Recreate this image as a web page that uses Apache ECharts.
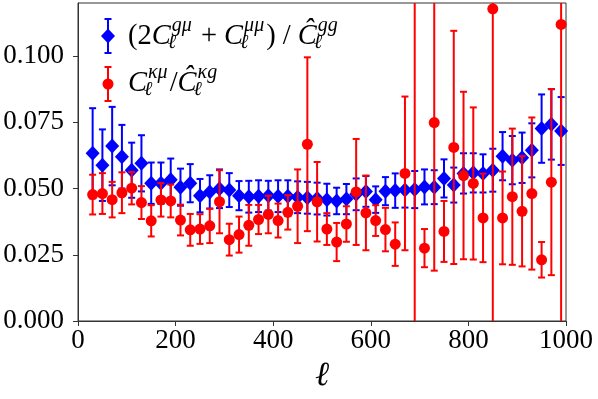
<!DOCTYPE html>
<html>
<head>
<meta charset="utf-8">
<script src="https://cdn.jsdelivr.net/npm/echarts@6/dist/echarts.min.js"></script>
<style>
	html, body { margin: 0; padding: 0; background: #fff; }
	#main { width: 598px; height: 399px; }
</style>
</head>
<body>
<div id="main"></div>
<script>
	// multipole bins
	var ells = [];
	for (var k = 0; k < 49; k++) ells.push(30 + 20 * k);

	// (2C^gmu + C^mumu) / C^gg  (blue diamonds)
	var blueVal = [0.0633, 0.0588, 0.0660, 0.0620, 0.0569, 0.0595, 0.0520, 0.0520, 0.0533, 0.0505,
		0.0520, 0.0473, 0.0487, 0.0499, 0.0494, 0.0473, 0.0469, 0.0471, 0.0473, 0.0471,
		0.0471, 0.0467, 0.0465, 0.0462, 0.0458, 0.0453, 0.0460, 0.0478, 0.0489, 0.0458,
		0.0490, 0.0492, 0.0494, 0.0496, 0.0506, 0.0505, 0.0538, 0.0513, 0.0557, 0.0559,
		0.0557, 0.0569, 0.0622, 0.0607, 0.0616, 0.0644, 0.0726, 0.0742, 0.0717];
	var blueErr = [0.0170, 0.0135, 0.0148, 0.0120, 0.0104, 0.0106, 0.0078, 0.0078, 0.0080, 0.0070,
		0.0072, 0.0063, 0.0063, 0.0073, 0.0064, 0.0055, 0.0060, 0.0060, 0.0056, 0.0060,
		0.0060, 0.0060, 0.0060, 0.0060, 0.0060, 0.0050, 0.0057, 0.0060, 0.0058, 0.0050,
		0.0053, 0.0065, 0.0066, 0.0070, 0.0066, 0.0064, 0.0072, 0.0066, 0.0076, 0.0074,
		0.0072, 0.0081, 0.0091, 0.0091, 0.0095, 0.0102, 0.0129, 0.0133, 0.0128];

	// C^kmu / C^kg  (red circles)
	var redVal = [0.0477, 0.0481, 0.0458, 0.0484, 0.0501, 0.0447, 0.0378, 0.0457, 0.0453, 0.0381,
		0.0344, 0.0347, 0.0359, 0.0450, 0.0307, 0.0326, 0.0361, 0.0383, 0.0402, 0.0379,
		0.0410, 0.0433, 0.0667, 0.0450, 0.0347, 0.0298, 0.0366, 0.0487, 0.0408, 0.0379,
		0.0345, 0.0290, 0.0557, 0.1600, 0.0275, 0.0749, 0.0338, 0.0655, 0.0549, 0.0519,
		0.0389, 0.1178, 0.0389, 0.0469, 0.0414, 0.0481, 0.0231, 0.0524, 0.1119];
	var redErr = [0.0075, 0.0077, 0.0067, 0.0077, 0.0061, 0.0062, 0.0059, 0.0063, 0.0062, 0.0058,
		0.0060, 0.0056, 0.0065, 0.0119, 0.0060, 0.0068, 0.0077, 0.0055, 0.0071, 0.0064,
		0.0065, 0.0139, 0.0328, 0.0150, 0.0060, 0.0072, 0.0067, 0.0200, 0.0141, 0.0058,
		0.0082, 0.0082, 0.0290, 0.2000, 0.0072, 0.0559, 0.0115, 0.0440, 0.0316, 0.0287,
		0.0167, 0.1300, 0.0175, 0.0257, 0.0208, 0.0287, 0.0067, 0.0351, 0.1300];

	var yTicks = [0, 0.025, 0.05, 0.075, 0.1];
	var xTicks = [0, 200, 400, 600, 800, 1000];

	var BLUE = '#0000ff', RED = '#ff0000';
	var SERIF = 'Liberation Serif';

	function pts(vals) {
		return ells.map(function (l, i) { return [l, vals[i]]; });
	}
	function bars(vals, errs) {
		return ells.map(function (l, i) { return [l, vals[i] - errs[i], vals[i] + errs[i]]; });
	}
	function errRender(color) {
		return function (params, api) {
			var lo = api.coord([api.value(0), api.value(1)]);
			var hi = api.coord([api.value(0), api.value(2)]);
			var c = 3.5;
			var st = { stroke: color, lineWidth: 2 };
			return {
				type: 'group',
				children: [
					{ type: 'line', shape: { x1: lo[0], y1: lo[1], x2: hi[0], y2: hi[1] }, style: st },
					{ type: 'line', shape: { x1: lo[0] - c, y1: lo[1], x2: lo[0] + c, y2: lo[1] }, style: st },
					{ type: 'line', shape: { x1: hi[0] - c, y1: hi[1], x2: hi[0] + c, y2: hi[1] }, style: st }
				]
			};
		};
	}

	// legend text with stacked super/subscripts
	var ctx = document.createElement('canvas').getContext('2d');
	function fontOf(size, it) {
		return (it ? 'italic ' : '') + size + 'px "' + SERIF + '", "DejaVu Serif", serif';
	}
	function textW(t, size, it) {
		ctx.font = fontOf(size, it);
		return ctx.measureText(t).width;
	}
	function txt(t, x, base, size, it) {
		return {
			type: 'text', x: x, y: base - 0.34 * size, z: 100,
			style: { text: t, font: fontOf(size, it), fill: '#000', align: 'left', verticalAlign: 'middle' }
		};
	}
	function label(x, base, pieces) {
		var out = [], S = 28.5, s = 20;
		pieces.forEach(function (p) {
			out.push(txt(p.t, x, base, S, p.it));
			x += textW(p.t, S, p.it);
			if (p.sup) {
				out.push(txt(p.sup, x + 1, base - 13, s, true));
				out.push(txt('ℓ', x - 3, base + 4, s, true));
				x += Math.max(textW(p.sup, s, true), textW('ℓ', s, true)) + 3;
			}
		});
		return out;
	}
	function legendMark(cx, cy, color, diamond) {
		var st = { stroke: color, lineWidth: 2 };
		var els = [
			{ type: 'line', shape: { x1: cx, y1: cy - 17, x2: cx, y2: cy + 17 }, style: st },
			{ type: 'line', shape: { x1: cx - 3.5, y1: cy - 17, x2: cx + 3.5, y2: cy - 17 }, style: st },
			{ type: 'line', shape: { x1: cx - 3.5, y1: cy + 17, x2: cx + 3.5, y2: cy + 17 }, style: st }
		];
		if (diamond) {
			els.push({ type: 'polygon', shape: { points: [[cx, cy - 7.5], [cx + 7, cy], [cx, cy + 7.5], [cx - 7, cy]] }, style: { fill: color } });
		} else {
			els.push({ type: 'circle', shape: { cx: cx, cy: cy, r: 5.5 }, style: { fill: color } });
		}
		return els;
	}

	var legendEls = []
		.concat(legendMark(108, 36, BLUE, true))
		.concat(legendMark(108, 84, RED, false))
		.concat(label(128, 46, [
			{ t: '(2' },
			{ t: 'C', it: true, sup: 'gμ' },
			{ t: ' + ' },
			{ t: 'C', it: true, sup: 'μμ' },
			{ t: ') / ' },
			{ t: 'Ĉ', it: true, sup: 'gg' }
		]))
		.concat(label(128, 93, [
			{ t: 'C', it: true, sup: 'κμ' },
			{ t: '/' },
			{ t: 'Ĉ', it: true, sup: 'κg' }
		]));

	var chart = echarts.init(document.getElementById('main'));
	var axisLine = { show: true, lineStyle: { color: '#333', width: 1 } };
	var option = {
		animation: false,
		grid: { left: 78, top: 3, width: 488, height: 318, show: true, borderColor: '#333', borderWidth: 1 },
		xAxis: {
			type: 'value', min: 0, max: 1000, interval: 200,
			name: 'ℓ', nameLocation: 'middle', nameGap: 32,
			nameTextStyle: { fontFamily: 'DejaVu Serif', fontStyle: 'italic', fontSize: 34, color: '#000' },
			axisLine: axisLine,
			axisTick: { show: true, inside: false, length: 5, lineStyle: { color: '#333' }, customValues: xTicks },
			axisLabel: {
				fontFamily: SERIF, fontSize: 27, color: '#000', margin: 6, customValues: xTicks,
				formatter: function (v) { return String(v); }
			},
			splitLine: { show: false }
		},
		yAxis: {
			type: 'value', min: 0, max: 0.12, interval: 0.025,
			axisLine: axisLine,
			axisTick: { show: true, inside: false, length: 5, lineStyle: { color: '#333' }, customValues: yTicks },
			axisLabel: {
				fontFamily: SERIF, fontSize: 27, color: '#000', margin: 14, customValues: yTicks,
				formatter: function (v) { return v.toFixed(3); }
			},
			splitLine: { show: false }
		},
		graphic: legendEls,
		series: [
			{
				type: 'custom', clip: true, renderItem: errRender(BLUE),
				encode: { x: 0, y: [1, 2] }, data: bars(blueVal, blueErr), z: 2
			},
			{
				type: 'scatter', symbol: 'diamond', symbolSize: [14, 15],
				itemStyle: { color: BLUE, opacity: 1 }, data: pts(blueVal), z: 3
			},
			{
				type: 'custom', clip: true, renderItem: errRender(RED),
				encode: { x: 0, y: [1, 2] }, data: bars(redVal, redErr), z: 4
			},
			{
				type: 'scatter', symbol: 'circle', symbolSize: 11, clip: true,
				itemStyle: { color: RED, opacity: 1 }, data: pts(redVal), z: 5
			}
		]
	};
	chart.setOption(option);
	window.addEventListener('resize', function () {
		chart.resize();
	});
</script>
</body>
</html>
